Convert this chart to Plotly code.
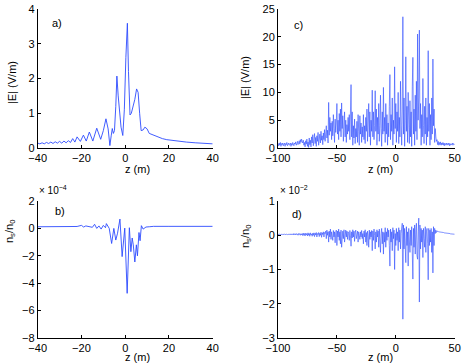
import numpy as np
import plotly.graph_objects as go

# ---- panel a) |E| vs z, small domain
z_a = [-40, -39, -38, -37, -36, -35, -34, -33, -32, -31, -30, -29, -28, -27, -26, -25, -24, -23, -22,
       -20.5, -19.1, -17.8, -16.4, -14.8, -13.0, -11.2, -10.0, -8.8, -7.8,
       -7.0, -6.4, -5.9, -5.4, -4.9, -4.3, -3.8, -3.2, -2.6, -1.9,
       -1.1, -0.4, 0.3, 1.0, 1.5, 2.2, 2.8, 3.5, 4.4, 5.2,
       5.9, 6.6, 7.3, 8.2, 9.0, 10.0, 11.0, 11.8, 12.6, 13.3,
       14.2, 15.5, 17, 19, 22, 25, 28, 32, 36, 40]
E_a = [0.14, 0.12, 0.15, 0.12, 0.16, 0.13, 0.17, 0.13, 0.18, 0.14, 0.19, 0.14, 0.2, 0.15, 0.21, 0.16, 0.27, 0.17, 0.32,
       0.19, 0.37, 0.2, 0.46, 0.2, 0.57, 0.25, 0.5, 0.84, 0.55,
       0.07, 0.35, 0.56, 0.42, 0.5, 1.2, 2.07, 1.5, 0.95, 0.6,
       0.36, 1.1, 2.6, 3.59, 2.2, 0.95, 1.0, 1.15, 1.4, 1.7,
       1.6, 1.0, 0.5, 0.52, 0.6, 0.55, 0.42, 0.4, 0.38, 0.37,
       0.33, 0.3, 0.27, 0.24, 0.21, 0.19, 0.17, 0.15, 0.13, 0.12]

# ---- panel b) ns/n0 (x 1e-4)
z_b = [-40, -30, -22, -20, -19, -18, -16.5, -15, -14, -13, -12, -11, -10, -9, -8.6, -7.3,
       -6.2, -5.2, -4.3, -3.5, -2.4, -1.4, -0.2, 0.9, 1.9, 2.6, 3.2, 3.7, 4.4, 5.1, 5.6,
       6.3, 6.8, 7.4, 8.2, 9.5, 11, 13, 20, 40]
n_b = [0.12, 0.13, 0.14, 0.22, 0.1, 0.18, 0.12, 0.08, 0.3, 0.0, 0.18, -0.05, 0.22, 0.05, 0.35, 0.0,
       -1.1, 0.0, -0.85, -0.35, 0.68, -2.06, 0.02, -4.74, 0.05, -1.7, -0.7, -1.2, -2.45, -1.2, -2.0,
       -0.3, -0.9, 0.2, -0.05, 0.1, 0.12, 0.15, 0.15, 0.15]

# ---- panels c) and d): sampled every 0.5 m from -100 to 50
z_cd = np.round(np.arange(-100, 50.01, 0.5), 2)

E_c = [
    0.8, 0.4, 0.9, 0.5, 1.0, 0.3, 0.8, 0.6, 0.9, 0.4, 0.7, 0.9, 0.3, 0.8, 0.6, 1.0, 0.4, 0.7, 0.9, 0.5,
    0.6, 0.9, 0.3, 0.8, 0.5, 1.0, 0.6, 0.4, 0.9, 0.7, 1.1, 0.5, 0.8, 1.2, 0.6, 0.9, 1.3, 0.7, 1.5, 1.0,
    1.6, 1.2, 0.9, 1.4, 0.5, 1.0, 0.2, 1.3, 0.7, 1.6, 0.3, 1.1, 0.1, 1.8, 0.6, 1.4, 0.2, 2.0, 0.9, 2.4,
    0.4, 1.5, 2.6, 0.8, 1.9, 0.3, 2.2, 1.2, 2.8, 0.5, 1.7, 2.5, 0.9, 3.0, 1.4, 2.2, 0.6, 2.7, 1.5, 3.3,
    1.2, 2.6, 4.0, 1.8, 3.2, 0.9, 8.2, 2.3, 5.5, 3.0, 4.5, 1.5, 4.8, 2.2, 6.0, 3.5, 1.0, 5.2, 2.8, 4.5,
    8.0, 2.5, 5.0, 1.5, 6.2, 3.0, 7.0, 2.0, 8.1, 3.5, 5.8, 1.2, 4.5, 6.5, 2.0, 5.0, 1.0, 4.2, 2.5, 5.5,
    3.0, 6.0, 1.5, 5.0, 11.4, 2.0, 6.5, 0.5, 4.0, 1.8, 5.2, 0.8, 3.5, 2.0, 4.8, 1.0, 6.0, 3.0, 0.5, 5.8,
    2.5, 4.5, 1.0, 3.8, 2.0, 6.0, 1.5, 4.0, 0.8, 5.5, 3.0, 7.0, 1.2, 4.5, 8.0, 2.0, 6.5, 0.5, 5.0, 3.0,
    10.4, 2.0, 6.5, 1.5, 4.0, 10.3, 3.0, 7.0, 0.5, 5.5, 2.5, 8.0, 1.2, 4.0, 9.5, 3.5, 0.3, 6.5, 2.5, 10.9,
    3.0, 5.5, 1.0, 8.0, 2.5, 6.0, 0.5, 4.5, 2.0, 7.5, 13.2, 1.5, 6.0, 3.0, 9.0, 0.5, 5.0, 2.5, 14.6, 3.5,
    8.0, 1.0, 6.5, 3.0, 10.0, 0.8, 5.5, 2.0, 12.0, 4.0, 0.5, 7.0, 23.6, 2.5, 9.0, 0.3, 5.0, 16.4, 3.0, 7.5,
    1.0, 10.0, 4.5, 0.8, 8.5, 2.0, 6.5, 0.3, 11.0, 16.3, 2.5, 7.0, 0.5, 9.5, 3.0, 12.0, 1.5, 20.5, 5.0, 9.0,
    21.2, 3.5, 8.0, 0.5, 6.0, 2.0, 12.5, 4.0, 0.8, 7.5, 2.5, 9.0, 0.5, 5.5, 2.0, 17.5, 3.0, 8.0, 0.5, 6.0,
    1.5, 9.0, 2.5, 16.0, 4.0, 7.0, 1.0, 3.5, 2.0, 1.2, 1.5, 0.6, 1.2, 0.5, 1.0, 0.6, 1.1, 0.5, 0.9, 0.6,
    1.0, 0.5, 0.9, 0.4, 0.8, 0.6, 0.9, 0.5, 0.8, 0.6, 0.9, 0.4, 0.8, 0.5, 0.7, 0.6, 0.9, 0.5, 0.8, 0.6,
    0.7]

n_d = [
    0.02, 0.03, 0.02, 0.03, 0.02, 0.03, 0.02, 0.03, 0.02, 0.03, 0.02, 0.03, 0.02, 0.03, 0.02, 0.03, 0.02, 0.03, 0.02, 0.03,
    0.02, 0.04, 0.01, 0.04, 0.02, 0.04, 0.01, 0.05, 0.02, 0.04, 0.01, 0.05, 0.02, 0.04, 0.0, 0.05, 0.02, 0.05, 0.0, 0.04,
    0.01, 0.05, -0.01, 0.06, 0.0, 0.05, -0.02, 0.06, 0.01, 0.05, -0.02, 0.07, 0.0, 0.05, -0.03, 0.07, 0.01, 0.04, -0.03, 0.06,
    0.0, 0.07, -0.04, 0.06, 0.01, 0.08, -0.05, 0.05, 0.02, 0.08, -0.04, 0.06, 0.0, 0.09, -0.06, 0.07, 0.02, 0.1, -0.05, 0.08,
    0.05, 0.12, -0.1, 0.15, 0.0, 0.1, -0.2, 0.12, -0.05, 0.18, -0.12, 0.1, 0.02, -0.15, 0.14, -0.05, 0.1, -0.22, 0.08, 0.15,
    -0.3, 0.12, -0.05, 0.18, -0.15, 0.1, -0.25, 0.15, -0.35, 0.05, 0.12, -0.1, 0.16, -0.2, 0.08, 0.15, -0.05, 0.12, -0.12, 0.1,
    0.05, -0.15, 0.14, 0.0, -0.32, 0.1, -0.08, 0.16, -0.05, 0.12, -0.18, 0.08, 0.15, -0.1, 0.05, 0.12, -0.2, 0.1, 0.0, -0.12,
    0.1, -0.05, 0.14, -0.1, 0.05, -0.25, 0.12, -0.05, 0.16, -0.2, 0.08, -0.3, 0.12, 0.0, -0.35, 0.15, -0.12, 0.1, -0.05, 0.14,
    -0.45, 0.12, -0.15, 0.18, 0.0, -0.4, 0.1, -0.2, 0.16, -0.05, 0.12, -0.35, 0.18, -0.1, -0.5, 0.05, 0.2, -0.25, 0.1, -0.55,
    0.08, -0.2, 0.22, -0.35, 0.1, -0.15, 0.2, -0.05, 0.15, -0.3, -0.9, 0.18, -0.2, 0.1, -0.45, 0.22, -0.1, 0.15, -1.0, 0.05,
    -0.3, 0.2, -0.15, 0.1, -0.45, 0.22, -0.2, 0.15, -0.4, 0.05, 0.25, 0.35, -2.45, 0.3, -0.4, 0.2, -0.15, -0.8, 0.25, -0.3,
    0.1, -0.9, 0.2, -0.1, -0.5, 0.15, -0.3, 0.25, -0.4, -1.28, 0.2, -0.35, 0.3, -0.55, 0.15, 0.35, -0.6, -0.7, 0.1, 0.5,
    -1.95, 0.3, -0.4, 0.2, -0.2, 0.15, -0.65, 0.2, -0.1, -0.35, 0.25, -0.5, 0.1, 0.2, -0.25, -1.3, 0.2, -0.3, 0.15, -0.2,
    0.2, -0.5, 0.1, -1.1, 0.25, -0.3, 0.2, 0.05, 0.15, 0.08, 0.12, 0.1, 0.11, 0.1, 0.1, 0.09, 0.1, 0.09, 0.09, 0.08,
    0.08, 0.08, 0.07, 0.07, 0.07, 0.06, 0.06, 0.06, 0.06, 0.05, 0.05, 0.05, 0.05, 0.04, 0.04, 0.04, 0.04, 0.04, 0.03, 0.03,
    0.03]

W, H = 463, 364
FONT = "Liberation Sans, Arial, Helvetica, sans-serif"
BLUE = "rgb(45,75,255)"

def px(x):
    return x / W

def py(y):
    return 1 - y / H

fig = go.Figure()
fig.add_trace(go.Scatter(x=z_a, y=E_a, mode="lines", line=dict(color=BLUE, width=0.9), xaxis="x", yaxis="y"))
fig.add_trace(go.Scatter(x=z_cd, y=E_c, mode="lines", line=dict(color=BLUE, width=0.6), xaxis="x2", yaxis="y2"))
fig.add_trace(go.Scatter(x=z_b, y=n_b, mode="lines", line=dict(color=BLUE, width=0.9), xaxis="x3", yaxis="y3"))
fig.add_trace(go.Scatter(x=z_cd, y=n_d, mode="lines", line=dict(color=BLUE, width=0.6), xaxis="x4", yaxis="y4"))

ax = dict(showline=True, linecolor="black", linewidth=1, ticks="inside", ticklen=3,
          tickcolor="black", showgrid=False, zeroline=False, mirror=False, automargin=False,
          tickfont=dict(size=11, color="black", family=FONT))

left = [px(37.7), px(212.7)]
right = [px(278), px(454.7)]
top = [py(148), py(9)]
bot = [py(338), py(201)]

fig.update_layout(
    width=W, height=H, autosize=False, margin=dict(l=0, r=0, t=0, b=0, pad=0),
    paper_bgcolor="white", plot_bgcolor="white", showlegend=False,
    font=dict(family=FONT, size=11, color="black"),
    xaxis=dict(ax, domain=left, range=[-40, 40], tickvals=[-40, -20, 0, 20, 40], anchor="y"),
    yaxis=dict(ax, domain=top, range=[0, 4], tickvals=[0, 1, 2, 3, 4], anchor="x"),
    xaxis2=dict(ax, domain=right, range=[-100, 50], tickvals=[-100, -50, 0, 50], anchor="y2"),
    yaxis2=dict(ax, domain=top, range=[0, 25], tickvals=[0, 5, 10, 15, 20, 25], anchor="x2"),
    xaxis3=dict(ax, domain=left, range=[-40, 40], tickvals=[-40, -20, 0, 20, 40], anchor="y3"),
    yaxis3=dict(ax, domain=bot, range=[-8, 2], tickvals=[-8, -6, -4, -2, 0, 2], anchor="x3"),
    xaxis4=dict(ax, domain=right, range=[-100, 50], tickvals=[-100, -50, 0, 50], anchor="y4"),
    yaxis4=dict(ax, domain=bot, range=[-3, 1], tickvals=[-3, -2, -1, 0, 1], anchor="x4"),
)

notes = [
    ("a)", 50, 23, 0), ("c)", 292, 25, 0), ("b)", 53, 211, 0), ("d)", 290, 214, 0),
    ("z (m)", 123, 169, 0), ("z (m)", 366, 169, 0), ("z (m)", 123, 357, 0), ("z (m)", 366, 357, 0),
    ("|E| (V/m)", 12, 83, -90), ("|E| (V/m)", 245, 78, -90),
    ("n<sub>s</sub>/n<sub>0</sub>", 10, 232, -90), ("n<sub>s</sub>/n<sub>0</sub>", 246, 237, -90),
]
for txt, x, y, ang in notes:
    fig.add_annotation(text=txt, x=px(x), y=py(y), xref="paper", yref="paper",
                       xanchor="left" if ang == 0 and txt.endswith(")") else "center",
                       yanchor="middle", textangle=ang, showarrow=False,
                       font=dict(size=11, color="black", family=FONT))

for txt, x in [("× 10<sup>−4</sup>", 37), ("× 10<sup>−2</sup>", 278)]:
    fig.add_annotation(text=txt, x=px(x), y=py(190), xref="paper", yref="paper",
                       xanchor="left", yanchor="middle", showarrow=False,
                       font=dict(size=10, color="black", family=FONT))

# page body margin would push the fixed-size figure off the window
fig.write_html("out.html", config={"responsive": False, "displayModeBar": False},
               post_script="document.body.style.margin='0';document.body.style.overflow='hidden';")
